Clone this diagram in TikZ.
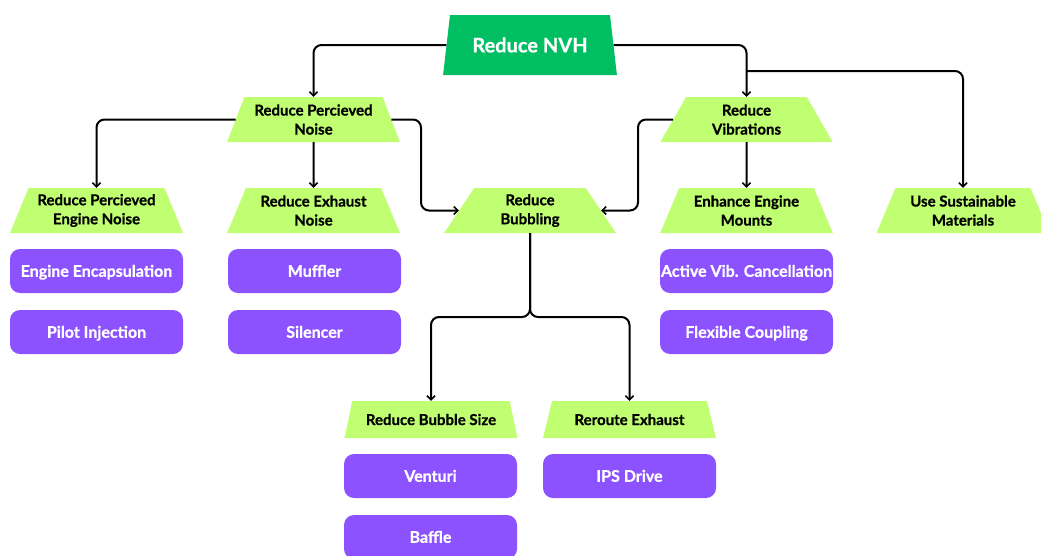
\documentclass[tikz,border=0pt]{standalone}
\usepackage{fontspec}
\setmainfont{Lato}[BoldFeatures={FakeBold=0.7}]
\usetikzlibrary{shapes.geometric,arrows.meta}
\definecolor{nvhgreen}{HTML}{00BF63}
\definecolor{limegreen}{HTML}{C1FF72}
\definecolor{boxpurple}{HTML}{8C52FF}
\begin{document}
\begin{tikzpicture}[x=1pt,y=-1pt,
  rootbox/.style={trapezium, trapezium stretches=true,
    trapezium left angle=71.6, trapezium right angle=71.6,
    minimum width=174pt, minimum height=60pt, inner sep=0pt,
    fill=nvhgreen, text=white, font=\fontsize{20}{24}\selectfont\bfseries},
  goalbox/.style={trapezium, trapezium stretches=true,
    trapezium left angle=64, trapezium right angle=64,
    minimum width=173pt, minimum height=45pt, inner sep=0pt, align=center,
    fill=limegreen, text=black, font=\fontsize{15}{19}\selectfont\bfseries},
  subgoalbox/.style={goalbox, minimum height=37pt,
    trapezium left angle=60.5, trapezium right angle=60.5},
  actbox/.style={rectangle, rounded corners=10pt, minimum width=173pt,
    minimum height=44pt, inner sep=0pt, fill=boxpurple, text=white,
    text height=11.5pt, text depth=0pt,
    font=\fontsize{16}{19}\selectfont\bfseries},
  conn/.style={draw=black, line width=2pt, rounded corners=8pt,
    -{Straight Barb[length=4pt,width=8pt,line width=1.6pt]}}
]
\useasboundingbox (0,0) rectangle (1041,555);

% goal tree
\node[rootbox] (nvh) at (530,45) {Reduce NVH};

\node[goalbox] (pn)  at (313.5,119.5) {Reduce Percieved\\Noise};
\node[goalbox] (vib) at (746.5,119.5) {Reduce\\Vibrations};

\node[goalbox] (eng) at (96.5,210.5)  {Reduce Percieved\\Engine Noise};
\node[goalbox] (exh) at (313.5,210.5) {Reduce Exhaust\\Noise};
\node[goalbox] (bub) at (530,210.5)   {Reduce\\Bubbling};
\node[goalbox] (mnt) at (746.5,210.5) {Enhance Engine\\Mounts};
\node[goalbox] (sus) at (963,210.5)   {Use Sustainable\\Materials};

\node[subgoalbox] (bsz) at (431,419.5)   {Reduce Bubble Size};
\node[subgoalbox] (rer) at (629.5,419.5) {Reroute Exhaust};

% measures
\node[actbox] (encap)  at (96.5,271)  {Engine Encapsulation};
\node[actbox] (pilot)  at (96.5,332)  {Pilot Injection};
\node[actbox] (muff)   at (314.5,271) {Muffler};
\node[actbox] (sil)    at (314.5,332) {Silencer};
\node[actbox] (avc)    at (746.5,271) {Active Vib. Cancellation};
\node[actbox] (flex)   at (746.5,332) {Flexible Coupling};
\node[actbox] (vent)   at (430.5,476) {Venturi};
\node[actbox] (ips)    at (629.5,476) {IPS Drive};
\node[actbox] (baffle) at (430.5,537) {Baffle};

% routing points
\coordinate (vibfork) at (746.5,71);
\coordinate (pnbend)  at (421,210.5);
\coordinate (vibbend) at (638,210.5);
\coordinate (bszbend) at (431,317);
\coordinate (rerbend) at (629.5,317);

% connectors
\draw[conn] (nvh.west) -| (pn.north);
\draw[conn] (nvh.east) -| (vib.north);
\draw[conn] (vibfork) -| (sus.north);
\draw[conn] (pn.west) -| (eng.north);
\draw[conn] (pn.south) -- (exh.north);
\draw[conn] (pn.east) -| (pnbend) -- (bub.west);
\draw[conn] (vib.west) -| (vibbend) -- (bub.east);
\draw[conn] (vib.south) -- (mnt.north);
\draw[conn] (bub.south) |- (bszbend) -- (bsz.north);
\draw[conn] (bub.south) |- (rerbend) -- (rer.north);
\end{tikzpicture}
\end{document}
